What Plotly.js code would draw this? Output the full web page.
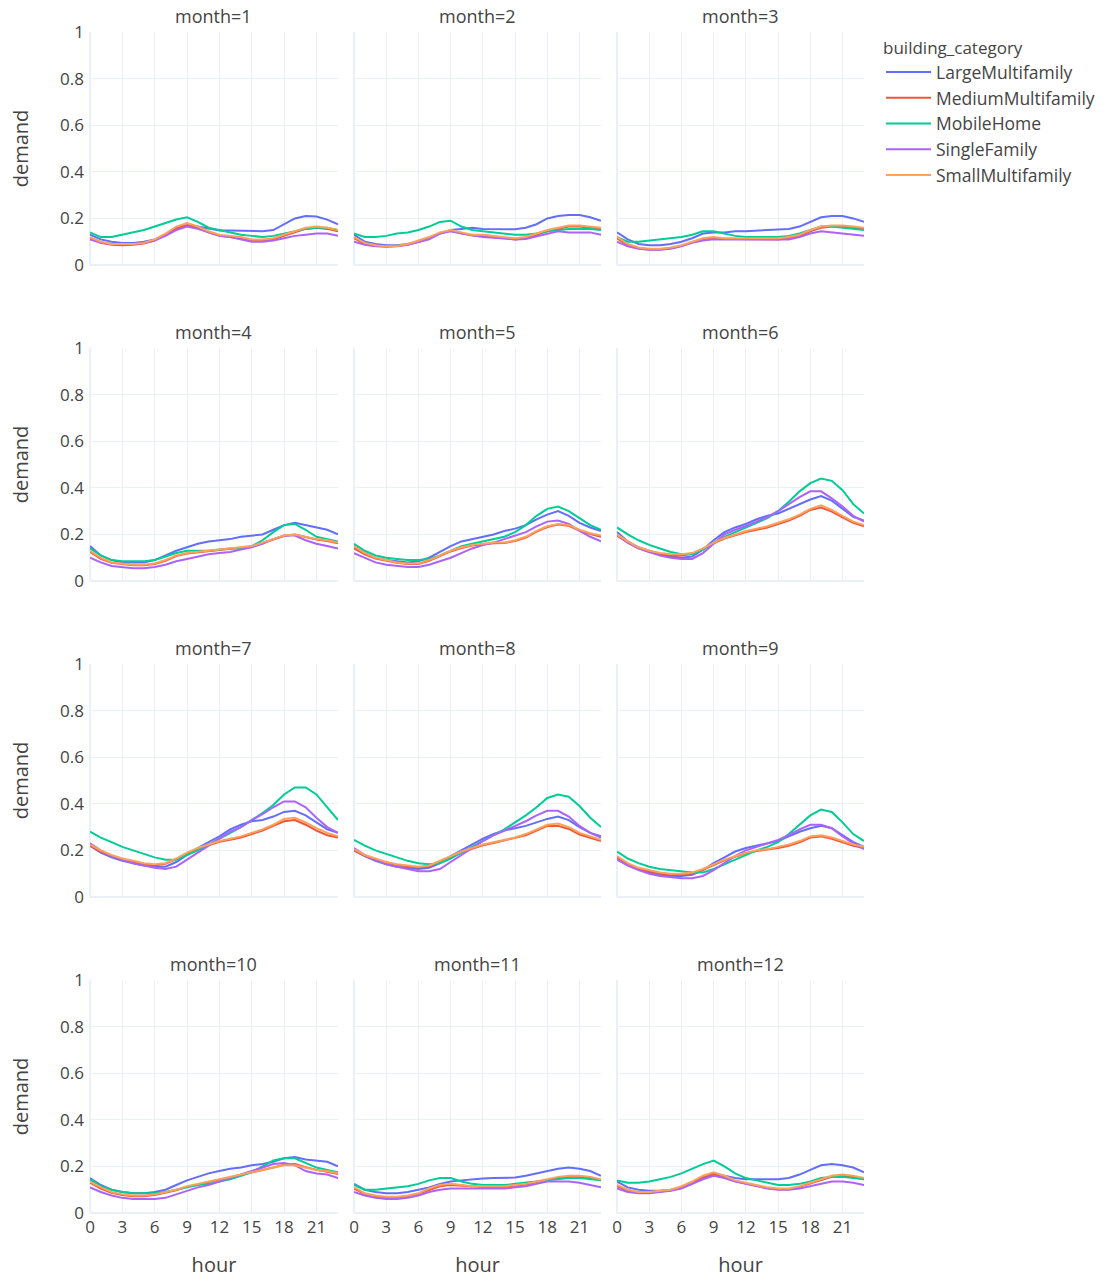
<!DOCTYPE html>
<html>
<head>
<meta charset="utf-8">
<script src="https://cdn.plot.ly/plotly-3.0.1.min.js"></script>
<style>html,body{margin:0;padding:0;background:#fff;}</style>
</head>
<body>
<div id="chart" style="width:1108px;height:1282px;"></div>
<script>
const hours = [0,1,2,3,4,5,6,7,8,9,10,11,12,13,14,15,16,17,18,19,20,21,22,23];
const months = [1,2,3,4,5,6,7,8,9,10,11,12];
const categories = ["LargeMultifamily","MediumMultifamily","MobileHome","SingleFamily","SmallMultifamily"];
const colors = ["#636efa","#EF553B","#00cc96","#ab63fa","#FFA15A"];

// demand per month (12 arrays of 24 hourly values)
const largeMultifamily = [
  [0.13,0.11,0.10,0.095,0.095,0.10,0.11,0.13,0.155,0.17,0.165,0.155,0.148,0.148,0.148,0.145,0.145,0.15,0.175,0.20,0.21,0.208,0.195,0.175],
  [0.13,0.10,0.09,0.085,0.085,0.09,0.10,0.115,0.135,0.15,0.155,0.16,0.155,0.155,0.153,0.153,0.16,0.175,0.20,0.21,0.215,0.215,0.205,0.19],
  [0.14,0.11,0.09,0.085,0.085,0.09,0.10,0.115,0.135,0.14,0.14,0.145,0.145,0.148,0.15,0.155,0.155,0.165,0.185,0.205,0.21,0.21,0.20,0.185],
  [0.15,0.11,0.09,0.08,0.08,0.08,0.09,0.11,0.13,0.145,0.16,0.17,0.175,0.18,0.19,0.195,0.20,0.22,0.24,0.25,0.24,0.23,0.22,0.20],
  [0.15,0.12,0.10,0.09,0.085,0.08,0.085,0.10,0.125,0.15,0.17,0.18,0.19,0.20,0.215,0.225,0.24,0.265,0.285,0.30,0.28,0.25,0.23,0.215],
  [0.21,0.17,0.145,0.13,0.115,0.105,0.10,0.105,0.135,0.175,0.21,0.23,0.245,0.265,0.28,0.29,0.31,0.33,0.35,0.365,0.345,0.31,0.275,0.26],
  [0.22,0.19,0.17,0.155,0.145,0.135,0.13,0.13,0.15,0.18,0.21,0.235,0.26,0.29,0.31,0.325,0.33,0.345,0.365,0.37,0.35,0.32,0.29,0.275],
  [0.20,0.175,0.155,0.14,0.13,0.125,0.12,0.125,0.145,0.175,0.20,0.225,0.25,0.27,0.285,0.295,0.305,0.32,0.335,0.345,0.33,0.30,0.275,0.26],
  [0.17,0.14,0.12,0.105,0.095,0.09,0.09,0.095,0.115,0.145,0.17,0.195,0.21,0.22,0.23,0.24,0.26,0.28,0.295,0.305,0.295,0.265,0.235,0.215],
  [0.15,0.12,0.10,0.09,0.085,0.085,0.09,0.10,0.12,0.14,0.155,0.17,0.18,0.19,0.195,0.205,0.21,0.22,0.235,0.24,0.23,0.225,0.22,0.20],
  [0.125,0.10,0.09,0.085,0.085,0.09,0.10,0.11,0.125,0.135,0.14,0.145,0.148,0.15,0.15,0.152,0.16,0.17,0.18,0.19,0.195,0.19,0.18,0.16],
  [0.135,0.11,0.10,0.095,0.095,0.10,0.11,0.13,0.15,0.165,0.16,0.15,0.145,0.145,0.145,0.145,0.15,0.165,0.185,0.205,0.21,0.205,0.195,0.175]
];
const mediumMultifamily = [
  [0.115,0.095,0.087,0.085,0.087,0.092,0.105,0.13,0.158,0.172,0.16,0.14,0.125,0.12,0.112,0.105,0.105,0.11,0.125,0.14,0.155,0.16,0.155,0.145],
  [0.115,0.09,0.082,0.078,0.08,0.087,0.1,0.117,0.137,0.147,0.137,0.127,0.125,0.12,0.115,0.11,0.115,0.13,0.145,0.155,0.165,0.165,0.16,0.155],
  [0.115,0.085,0.072,0.067,0.067,0.072,0.082,0.097,0.112,0.117,0.112,0.112,0.112,0.112,0.11,0.11,0.115,0.125,0.145,0.16,0.165,0.165,0.16,0.155],
  [0.125,0.095,0.078,0.072,0.068,0.068,0.073,0.087,0.107,0.118,0.123,0.128,0.133,0.138,0.143,0.148,0.163,0.178,0.193,0.2,0.19,0.178,0.172,0.162],
  [0.14,0.115,0.097,0.087,0.078,0.073,0.073,0.087,0.107,0.127,0.142,0.152,0.157,0.162,0.163,0.172,0.187,0.212,0.232,0.243,0.237,0.217,0.202,0.19],
  [0.195,0.165,0.14,0.125,0.115,0.11,0.11,0.117,0.137,0.162,0.182,0.197,0.21,0.22,0.23,0.245,0.26,0.28,0.305,0.315,0.298,0.273,0.25,0.235],
  [0.22,0.195,0.175,0.16,0.15,0.14,0.135,0.142,0.162,0.187,0.207,0.222,0.237,0.245,0.255,0.27,0.285,0.305,0.325,0.33,0.31,0.285,0.265,0.255],
  [0.2,0.177,0.16,0.147,0.137,0.132,0.127,0.132,0.152,0.172,0.192,0.207,0.222,0.232,0.242,0.252,0.265,0.285,0.305,0.305,0.292,0.268,0.253,0.24],
  [0.17,0.14,0.12,0.11,0.1,0.097,0.097,0.102,0.117,0.137,0.157,0.172,0.187,0.197,0.202,0.21,0.22,0.235,0.255,0.26,0.25,0.235,0.22,0.21],
  [0.13,0.105,0.087,0.077,0.072,0.072,0.077,0.087,0.097,0.112,0.122,0.132,0.142,0.152,0.162,0.172,0.182,0.195,0.207,0.21,0.197,0.185,0.177,0.167],
  [0.105,0.082,0.072,0.067,0.067,0.072,0.082,0.1,0.115,0.12,0.117,0.112,0.112,0.112,0.112,0.117,0.122,0.132,0.142,0.15,0.155,0.155,0.15,0.14],
  [0.115,0.095,0.087,0.087,0.092,0.097,0.11,0.13,0.155,0.168,0.155,0.137,0.127,0.117,0.107,0.102,0.102,0.112,0.127,0.142,0.155,0.16,0.155,0.145]
];
const mobileHome = [
  [0.14,0.12,0.12,0.13,0.14,0.15,0.165,0.18,0.195,0.205,0.185,0.16,0.15,0.14,0.13,0.125,0.12,0.125,0.135,0.145,0.155,0.16,0.16,0.15],
  [0.135,0.12,0.12,0.125,0.135,0.14,0.15,0.165,0.185,0.19,0.165,0.15,0.145,0.14,0.135,0.13,0.13,0.135,0.145,0.15,0.155,0.155,0.155,0.15],
  [0.12,0.10,0.10,0.105,0.11,0.115,0.12,0.13,0.145,0.145,0.135,0.125,0.12,0.12,0.12,0.12,0.125,0.135,0.15,0.165,0.165,0.16,0.155,0.15],
  [0.14,0.11,0.09,0.085,0.085,0.085,0.09,0.105,0.12,0.13,0.13,0.13,0.135,0.14,0.14,0.15,0.175,0.21,0.24,0.245,0.22,0.19,0.18,0.17],
  [0.16,0.13,0.11,0.10,0.095,0.09,0.09,0.095,0.11,0.13,0.15,0.16,0.17,0.18,0.19,0.21,0.24,0.28,0.31,0.32,0.30,0.27,0.24,0.22],
  [0.23,0.20,0.175,0.155,0.14,0.125,0.115,0.115,0.135,0.165,0.19,0.21,0.23,0.25,0.27,0.30,0.34,0.385,0.42,0.44,0.43,0.39,0.33,0.29],
  [0.28,0.255,0.235,0.215,0.20,0.185,0.17,0.16,0.16,0.18,0.20,0.225,0.25,0.275,0.30,0.33,0.36,0.395,0.44,0.47,0.47,0.44,0.385,0.33],
  [0.245,0.22,0.20,0.185,0.17,0.155,0.145,0.14,0.145,0.165,0.19,0.215,0.24,0.265,0.29,0.32,0.35,0.385,0.425,0.44,0.43,0.39,0.34,0.30],
  [0.195,0.165,0.145,0.13,0.12,0.115,0.11,0.105,0.105,0.12,0.14,0.16,0.18,0.20,0.215,0.235,0.27,0.31,0.35,0.375,0.365,0.32,0.27,0.24],
  [0.145,0.115,0.10,0.09,0.085,0.085,0.085,0.09,0.10,0.11,0.12,0.125,0.135,0.145,0.16,0.175,0.20,0.225,0.235,0.235,0.215,0.195,0.185,0.175],
  [0.12,0.10,0.10,0.105,0.11,0.115,0.125,0.14,0.15,0.15,0.135,0.125,0.12,0.12,0.12,0.125,0.13,0.135,0.14,0.145,0.15,0.15,0.145,0.14],
  [0.14,0.13,0.13,0.135,0.145,0.155,0.17,0.19,0.21,0.225,0.20,0.17,0.15,0.14,0.13,0.12,0.12,0.125,0.135,0.15,0.155,0.155,0.15,0.145]
];
const singleFamily = [
  [0.11,0.095,0.09,0.09,0.09,0.095,0.105,0.125,0.15,0.165,0.155,0.14,0.125,0.12,0.11,0.10,0.10,0.105,0.115,0.125,0.13,0.135,0.135,0.125],
  [0.10,0.087,0.08,0.08,0.082,0.087,0.097,0.11,0.135,0.145,0.135,0.127,0.12,0.117,0.112,0.11,0.112,0.122,0.135,0.145,0.14,0.14,0.14,0.13],
  [0.10,0.08,0.07,0.065,0.065,0.07,0.08,0.095,0.105,0.11,0.11,0.11,0.11,0.11,0.11,0.11,0.11,0.12,0.135,0.145,0.14,0.135,0.13,0.125],
  [0.10,0.08,0.065,0.06,0.055,0.055,0.06,0.07,0.085,0.095,0.105,0.115,0.12,0.125,0.135,0.145,0.16,0.18,0.195,0.195,0.175,0.16,0.15,0.14],
  [0.12,0.10,0.08,0.07,0.065,0.06,0.06,0.07,0.085,0.10,0.12,0.14,0.155,0.165,0.18,0.195,0.21,0.235,0.255,0.26,0.245,0.215,0.19,0.17],
  [0.20,0.165,0.14,0.125,0.11,0.10,0.095,0.095,0.12,0.16,0.20,0.22,0.235,0.255,0.275,0.30,0.33,0.36,0.385,0.385,0.355,0.32,0.28,0.255],
  [0.23,0.20,0.175,0.16,0.145,0.135,0.125,0.12,0.13,0.16,0.19,0.22,0.25,0.28,0.30,0.33,0.355,0.385,0.41,0.41,0.385,0.34,0.30,0.275],
  [0.21,0.18,0.16,0.14,0.13,0.12,0.11,0.11,0.12,0.15,0.18,0.21,0.24,0.265,0.285,0.305,0.325,0.35,0.37,0.37,0.345,0.305,0.275,0.255],
  [0.16,0.135,0.115,0.10,0.09,0.085,0.08,0.08,0.09,0.115,0.145,0.175,0.20,0.215,0.23,0.245,0.265,0.29,0.31,0.31,0.295,0.26,0.23,0.205],
  [0.11,0.09,0.075,0.065,0.06,0.06,0.06,0.065,0.08,0.095,0.11,0.12,0.135,0.15,0.165,0.18,0.195,0.21,0.215,0.205,0.18,0.17,0.165,0.15],
  [0.09,0.075,0.065,0.06,0.06,0.065,0.075,0.09,0.10,0.105,0.105,0.105,0.105,0.105,0.105,0.11,0.115,0.125,0.135,0.135,0.135,0.13,0.12,0.11],
  [0.105,0.09,0.085,0.085,0.09,0.095,0.105,0.125,0.145,0.16,0.15,0.135,0.125,0.115,0.105,0.10,0.10,0.105,0.115,0.125,0.135,0.135,0.13,0.12]
];
const smallMultifamily = [
  [0.12,0.10,0.09,0.09,0.09,0.095,0.11,0.135,0.165,0.18,0.165,0.145,0.13,0.125,0.12,0.11,0.11,0.115,0.13,0.145,0.16,0.165,0.16,0.15],
  [0.12,0.095,0.085,0.08,0.082,0.09,0.105,0.12,0.14,0.15,0.14,0.13,0.13,0.125,0.12,0.115,0.12,0.135,0.15,0.16,0.17,0.17,0.165,0.16],
  [0.12,0.09,0.075,0.07,0.07,0.075,0.085,0.10,0.115,0.12,0.115,0.115,0.115,0.115,0.115,0.115,0.12,0.13,0.15,0.165,0.17,0.17,0.165,0.16],
  [0.13,0.10,0.08,0.075,0.07,0.07,0.075,0.09,0.11,0.12,0.125,0.13,0.135,0.14,0.145,0.15,0.165,0.18,0.195,0.20,0.19,0.18,0.175,0.165],
  [0.15,0.12,0.10,0.09,0.08,0.075,0.075,0.09,0.11,0.13,0.145,0.155,0.16,0.165,0.165,0.175,0.19,0.215,0.235,0.245,0.24,0.22,0.205,0.195],
  [0.20,0.17,0.145,0.13,0.12,0.115,0.115,0.12,0.14,0.165,0.185,0.20,0.215,0.225,0.235,0.25,0.265,0.285,0.31,0.325,0.305,0.28,0.255,0.24],
  [0.225,0.20,0.18,0.165,0.155,0.145,0.14,0.145,0.165,0.19,0.21,0.225,0.24,0.25,0.26,0.275,0.29,0.31,0.335,0.34,0.32,0.295,0.275,0.26],
  [0.205,0.18,0.165,0.15,0.14,0.135,0.13,0.135,0.155,0.175,0.195,0.21,0.225,0.235,0.245,0.255,0.27,0.29,0.31,0.315,0.30,0.275,0.26,0.245],
  [0.175,0.145,0.125,0.115,0.105,0.10,0.10,0.105,0.12,0.14,0.16,0.175,0.19,0.20,0.205,0.215,0.225,0.24,0.26,0.265,0.255,0.24,0.225,0.215],
  [0.135,0.11,0.09,0.08,0.075,0.075,0.08,0.09,0.10,0.115,0.125,0.135,0.145,0.155,0.165,0.175,0.185,0.195,0.205,0.205,0.195,0.185,0.18,0.17],
  [0.11,0.085,0.075,0.07,0.07,0.075,0.085,0.105,0.12,0.125,0.12,0.115,0.115,0.115,0.115,0.12,0.125,0.135,0.145,0.155,0.16,0.16,0.155,0.145],
  [0.12,0.10,0.09,0.09,0.095,0.10,0.115,0.135,0.16,0.175,0.16,0.14,0.13,0.12,0.11,0.105,0.105,0.115,0.13,0.145,0.16,0.165,0.16,0.15]
];
const seriesData = [largeMultifamily, mediumMultifamily, mobileHome, singleFamily, smallMultifamily];

const FONT = "Open Sans, Verdana, Arial, sans-serif";
const TXT = "#444";
const GRID = "#EBF0F8";

// facet domains (4 rows x 3 cols)
const colDomains = [[0, 0.3204], [0.3411, 0.6602], [0.6809, 1]];
const rowDomains = [[0.8027, 1], [0.5351, 0.7324], [0.2676, 0.4649], [0, 0.1973]];

const traces = [];
const layout = {
  width: 1108, height: 1282,
  margin: {l: 90, r: 244, t: 32, b: 69, pad: 0, autoexpand: false},
  paper_bgcolor: "#fff", plot_bgcolor: "#fff",
  font: {family: FONT, size: 17, color: TXT},
  showlegend: true,
  legend: {
    title: {text: "building_category", font: {size: 17, color: TXT}},
    x: 1.022, xanchor: "left", y: 1, yanchor: "top",
    font: {size: 17.5, color: TXT}, tracegroupgap: 0, itemwidth: 45
  },
  annotations: []
};

months.forEach((m, i) => {
  const r = Math.floor(i / 3), c = i % 3;
  const idx = i + 1;
  const xa = "xaxis" + (idx === 1 ? "" : idx);
  const ya = "yaxis" + (idx === 1 ? "" : idx);
  const xr = "x" + (idx === 1 ? "" : idx);
  const yr = "y" + (idx === 1 ? "" : idx);
  layout[xa] = {
    domain: colDomains[c], anchor: yr, range: [0, 23],
    tick0: 0, dtick: 3, showgrid: true, gridcolor: GRID, zeroline: true, zerolinecolor: GRID, zerolinewidth: 2,
    showline: false, ticks: "", showticklabels: r === 3, automargin: false, ticklabelstandoff: 2,
    tickfont: {size: 17, color: TXT},
    title: r === 3 ? {text: "hour", font: {size: 20, color: TXT}, standoff: 20} : {text: ""}
  };
  layout[ya] = {
    domain: rowDomains[r], anchor: xr, range: [0, 1],
    tick0: 0, dtick: 0.2, showgrid: true, gridcolor: GRID, zeroline: true, zerolinecolor: GRID, zerolinewidth: 2,
    showline: false, ticks: "", showticklabels: c === 0, automargin: false, ticklabelstandoff: 5,
    tickfont: {size: 17, color: TXT},
    title: c === 0 ? {text: "demand", font: {size: 20, color: TXT}, standoff: 26} : {text: ""}
  };
  layout.annotations.push({
    text: "month=" + m, xref: "paper", yref: "paper",
    x: (colDomains[c][0] + colDomains[c][1]) / 2, y: rowDomains[r][1],
    xanchor: "center", yanchor: "bottom", yshift: 2, showarrow: false,
    font: {size: 18, color: TXT}
  });
  categories.forEach((cat, k) => {
    traces.push({
      type: "scatter", mode: "lines", name: cat, legendgroup: cat,
      showlegend: i === 0,
      x: hours, y: seriesData[k][i],
      xaxis: xr, yaxis: yr,
      line: {color: colors[k], width: 2}
    });
  });
});

Plotly.newPlot("chart", traces, layout, {displayModeBar: false, responsive: false});
</script>
</body>
</html>
